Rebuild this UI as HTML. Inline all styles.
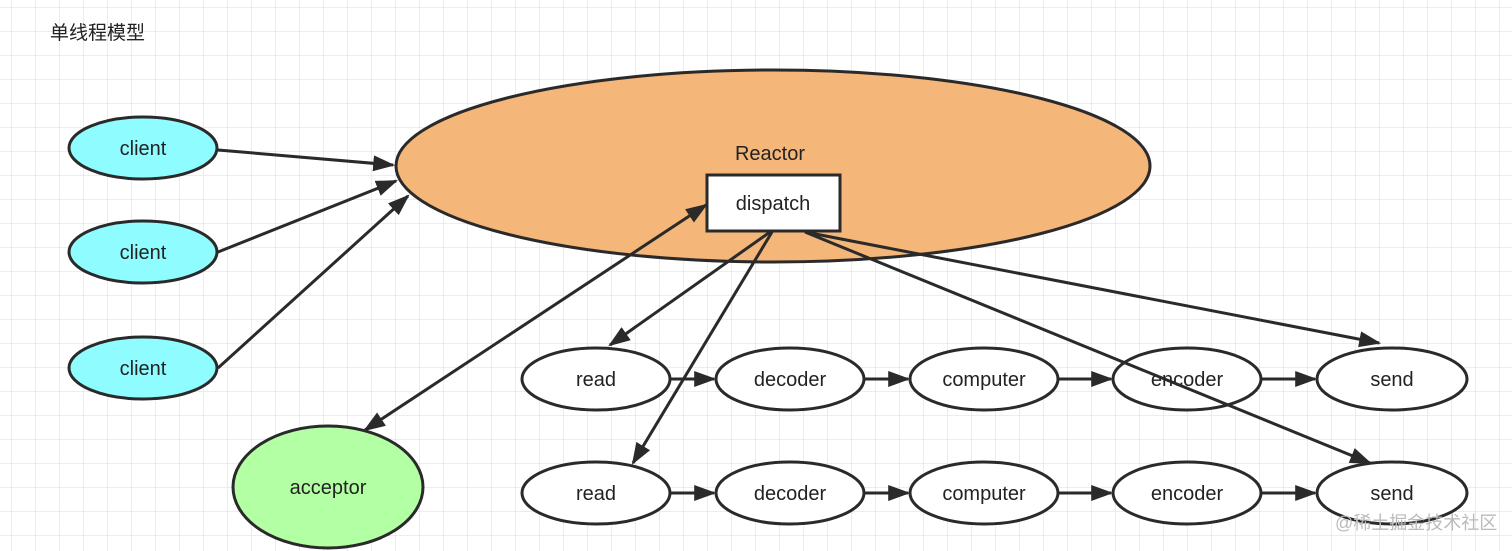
<!DOCTYPE html>
<html><head><meta charset="utf-8"><style>
html,body{margin:0;padding:0;background:#fff}
svg{display:block}
text{font-family:"Liberation Sans","Noto Sans CJK SC",sans-serif;fill:#222}
</style></head><body>
<svg width="1512" height="551" viewBox="0 0 1512 551" xmlns="http://www.w3.org/2000/svg">
<defs>
<pattern id="g" width="24" height="24" patternUnits="userSpaceOnUse" x="12" y="8">
<path d="M24 0V24M0 24H24" stroke="#e2e2e2" stroke-width="1.3" fill="none"/>
</pattern>
<marker id="b" viewBox="0 0 10 10" refX="9" refY="5" markerWidth="22" markerHeight="16" orient="auto-start-reverse" markerUnits="userSpaceOnUse" preserveAspectRatio="none">
<path d="M0 0L10 5L0 10z" fill="#2a2a2a"/>
</marker>
</defs>
<rect width="1512" height="551" fill="url(#g)"/>
<text x="50" y="39" font-size="19">单线程模型</text>

<ellipse cx="773" cy="166" rx="377" ry="96" fill="#f5b67a" stroke="#2a2a2a" stroke-width="3"/>
<text x="770" y="160" font-size="20" text-anchor="middle">Reactor</text>
<rect x="707" y="175" width="133" height="56" fill="#fff" stroke="#2a2a2a" stroke-width="3"/>
<text x="773" y="210" font-size="20" text-anchor="middle">dispatch</text>

<g stroke="#2a2a2a" stroke-width="3" fill="#8ffcff">
<ellipse cx="143" cy="148" rx="74" ry="31"/>
<ellipse cx="143" cy="252" rx="74" ry="31"/>
<ellipse cx="143" cy="368" rx="74" ry="31"/>
</g>
<g font-size="20" text-anchor="middle">
<text x="143" y="155">client</text>
<text x="143" y="259">client</text>
<text x="143" y="375">client</text>
</g>
<ellipse cx="328" cy="487" rx="95" ry="61" fill="#b3ffa3" stroke="#2a2a2a" stroke-width="3"/>
<text x="328" y="494" font-size="20" text-anchor="middle">acceptor</text>

<g stroke="#2a2a2a" stroke-width="3" fill="#fff">
<ellipse cx="596" cy="379" rx="74" ry="31"/><ellipse cx="790" cy="379" rx="74" ry="31"/>
<ellipse cx="984" cy="379" rx="74" ry="31"/><ellipse cx="1187" cy="379" rx="74" ry="31"/>
<ellipse cx="1392" cy="379" rx="75" ry="31"/>
<ellipse cx="596" cy="493" rx="74" ry="31"/><ellipse cx="790" cy="493" rx="74" ry="31"/>
<ellipse cx="984" cy="493" rx="74" ry="31"/><ellipse cx="1187" cy="493" rx="74" ry="31"/>
<ellipse cx="1392" cy="493" rx="75" ry="31"/>
</g>
<g font-size="20" text-anchor="middle">
<text x="596" y="386">read</text><text x="790" y="386">decoder</text><text x="984" y="386">computer</text><text x="1187" y="386">encoder</text><text x="1392" y="386">send</text>
<text x="596" y="500">read</text><text x="790" y="500">decoder</text><text x="984" y="500">computer</text><text x="1187" y="500">encoder</text><text x="1392" y="500">send</text>
</g>

<g stroke="#2a2a2a" stroke-width="3" fill="none" marker-end="url(#b)">
<line x1="218" y1="150" x2="393" y2="165"/>
<line x1="218" y1="252" x2="396" y2="181"/>
<line x1="218" y1="368" x2="408" y2="196"/>
<line x1="365" y1="430" x2="706" y2="205" marker-start="url(#b)"/>
<line x1="770" y1="232" x2="610" y2="345"/>
<line x1="772" y1="232" x2="633" y2="463"/>
<line x1="805" y1="232" x2="1379" y2="343"/>
<line x1="805" y1="232" x2="1370" y2="463"/>
<line x1="670" y1="379" x2="714" y2="379"/><line x1="864" y1="379" x2="908" y2="379"/>
<line x1="1058" y1="379" x2="1111" y2="379"/><line x1="1261" y1="379" x2="1315" y2="379"/>
<line x1="670" y1="493" x2="714" y2="493"/><line x1="864" y1="493" x2="908" y2="493"/>
<line x1="1058" y1="493" x2="1111" y2="493"/><line x1="1261" y1="493" x2="1315" y2="493"/>
</g>
<text x="1335" y="529" font-size="18" style="fill:#bbb">@稀土掘金技术社区</text>
</svg>
</body></html>
